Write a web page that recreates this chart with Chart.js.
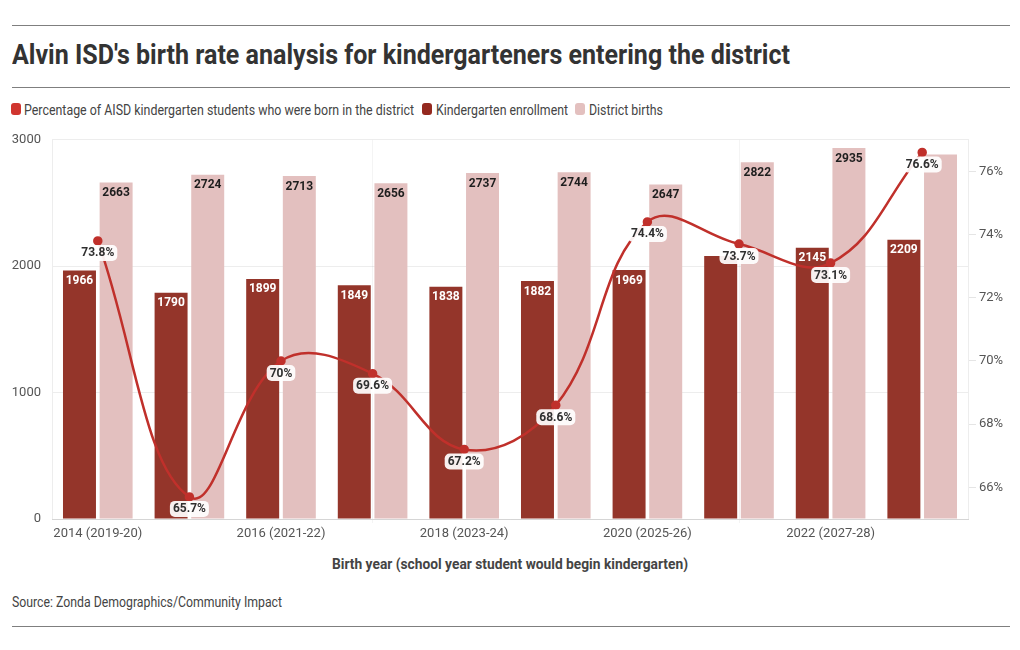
<!DOCTYPE html>
<html><head><meta charset="utf-8">
<script src="https://cdn.jsdelivr.net/npm/chart.js@4"></script>
<style>
html,body{margin:0;padding:0;background:#fff}
body{width:1020px;height:650px;position:relative;overflow:hidden;font-family:Roboto,sans-serif}
.rule{position:absolute;left:12px;width:998px;height:1px;background:#7f7f7f}
.t{position:absolute;white-space:nowrap;transform-origin:0 0;display:inline-block;line-height:1}
#title{left:12px;top:41px;font-size:28px;font-weight:700;color:#333}
.lg{font-size:14px;color:#444;top:103px}
.box{position:absolute;width:10px;height:12px;border-radius:3px;top:103px}
#xtitle{left:332px;top:557px;font-size:14px;font-weight:700;color:#444}
#source{left:12px;top:595px;font-size:14px;color:#444}
#cv{position:absolute;left:0;top:121px}
</style></head>
<body>
<div class="rule" style="top:25px"></div>
<div class="t" id="title" data-w="778">Alvin ISD's birth rate analysis for kindergarteners entering the district</div>
<div class="rule" style="top:87px"></div>
<div class="box" style="left:11px;background:#d0352f"></div>
<div class="t lg" style="left:24px" data-w="390">Percentage of AISD kindergarten students who were born in the district</div>
<div class="box" style="left:422px;background:#94291f"></div>
<div class="t lg" style="left:436px" data-w="132">Kindergarten enrollment</div>
<div class="box" style="left:575px;background:#e3c0bf"></div>
<div class="t lg" style="left:589px" data-w="74">District births</div>
<canvas id="cv" width="1020" height="424"></canvas>
<div class="t" id="xtitle" data-w="356">Birth year (school year student would begin kindergarten)</div>
<div class="t" id="source" data-w="270">Source: Zonda Demographics/Community Impact</div>
<div class="rule" style="top:626px"></div>
<script>
const categories = ['2014 (2019-20)','2015 (2020-21)','2016 (2021-22)','2017 (2022-23)','2018 (2023-24)','2019 (2024-25)','2020 (2025-26)','2021 (2026-27)','2022 (2027-28)','2023 (2028-29)'];
const enrollment = [1966,1790,1899,1849,1838,1882,1969,2080,2145,2209];
const births = [2663,2724,2713,2656,2737,2744,2647,2822,2935,2884];
const pctBorn = [73.8,65.7,70,69.6,67.2,68.6,74.4,73.7,73.1,76.6];
const leftTicks = [0,1000,2000,3000];
const rightTicks = [66,68,70,72,74,76];

function fitAll(){
  document.querySelectorAll('.t[data-w]').forEach(el=>{
    el.style.transform='none';
    const w=el.getBoundingClientRect().width;
    const target=+el.dataset.w;
    if(w>0) el.style.transform='scaleX('+(target/w)+')';
  });
}
fitAll();
if(document.fonts&&document.fonts.ready) document.fonts.ready.then(fitAll);

function overlap(a,b){return a.x<b.x+b.w && b.x<a.x+a.w && a.y<b.y+b.h && b.y<a.y+a.h;}

const labelPlugin={
  id:'valueLabels',
  afterDatasetsDraw(chart){
    const ctx=chart.ctx;
    ctx.save();
    ctx.font='700 12px Roboto';
    ctx.textAlign='center';ctx.textBaseline='middle';
    const lineMeta=chart.getDatasetMeta(0);
    const boxes=[];
    lineMeta.data.forEach((pt,i)=>{
      const txt=chart.data.datasets[0].data[i]+'%';
      const w=ctx.measureText(txt).width+6,h=16;
      const cy=pt.y+12;
      boxes.push({x:pt.x-w/2,y:cy-h/2,w:w,h:h,txt:txt,cx:pt.x,cy:cy});
    });
    [1,2].forEach(di=>{
      const meta=chart.getDatasetMeta(di);
      const ds=chart.data.datasets[di];
      meta.data.forEach((bar,i)=>{
        const txt=String(ds.data[i]);
        const w=ctx.measureText(txt).width,h=12;
        const cx=bar.x,cy=bar.y+10;
        const r={x:cx-w/2,y:cy-h/2,w:w,h:h};
        if(boxes.some(b=>overlap(b,r)))return;
        ctx.fillStyle=di===1?'#ffffff':'#1e1e1e';
        ctx.fillText(txt,cx,cy+0.5);
      });
    });
    boxes.forEach(b=>{
      ctx.fillStyle='rgba(255,255,255,0.92)';
      ctx.beginPath();ctx.roundRect(b.x,b.y,b.w,b.h,5);ctx.fill();
      ctx.fillStyle='#2f2f2f';
      ctx.fillText(b.txt,b.cx,b.cy+0.5);
    });
    ctx.restore();
  }
};

new Chart(document.getElementById('cv'),{
  type:'bar',
  data:{
    labels:categories,
    datasets:[
      {type:'line',label:'Percentage of AISD kindergarten students who were born in the district',data:pctBorn,yAxisID:'y1',
       borderColor:'#c0302b',backgroundColor:'#c0302b',borderWidth:2.5,pointRadius:3.5,pointHoverRadius:3.5,tension:0.4,fill:false},
      {type:'bar',label:'Kindergarten enrollment',data:enrollment,yAxisID:'y',backgroundColor:'#94352a'},
      {type:'bar',label:'District births',data:births,yAxisID:'y',backgroundColor:'#e3c0bf'}
    ]
  },
  options:{
    responsive:false,
    animation:false,
    devicePixelRatio:1,
    layout:{padding:{top:10,left:0,right:0,bottom:0}},
    plugins:{legend:{display:false},tooltip:{enabled:false}},
    scales:{
      x:{
        grid:{color:'rgba(0,0,0,0.045)',tickLength:4},
        border:{color:'rgba(0,0,0,0.1)'},
        ticks:{font:{family:'Roboto',size:13},color:'#555',maxRotation:0,autoSkip:true,maxTicksLimit:5,padding:3},
        afterFit(s){s.height=26;}
      },
      y:{
        position:'left',min:0,max:3000,
        afterBuildTicks(s){s.ticks=leftTicks.map(v=>({value:v}));},
        grid:{color:'rgba(0,0,0,0.07)',drawTicks:false},
        border:{color:'rgba(0,0,0,0.07)'},
        ticks:{padding:11,font:{family:'Roboto',size:13},color:'#555',callback:v=>String(v)},
        afterFit(s){s.width=52;}
      },
      y1:{
        position:'right',min:65,max:77,
        afterBuildTicks(s){s.ticks=rightTicks.map(v=>({value:v}));},
        grid:{drawOnChartArea:false,color:'rgba(0,0,0,0.1)',tickLength:8},
        border:{color:'rgba(0,0,0,0.07)'},
        ticks:{padding:3,font:{family:'Roboto',size:13},color:'#555',callback:v=>v+'%'},
        afterFit(s){s.width=52;}
      }
    }
  },
  plugins:[labelPlugin]
});
</script>
</body></html>
